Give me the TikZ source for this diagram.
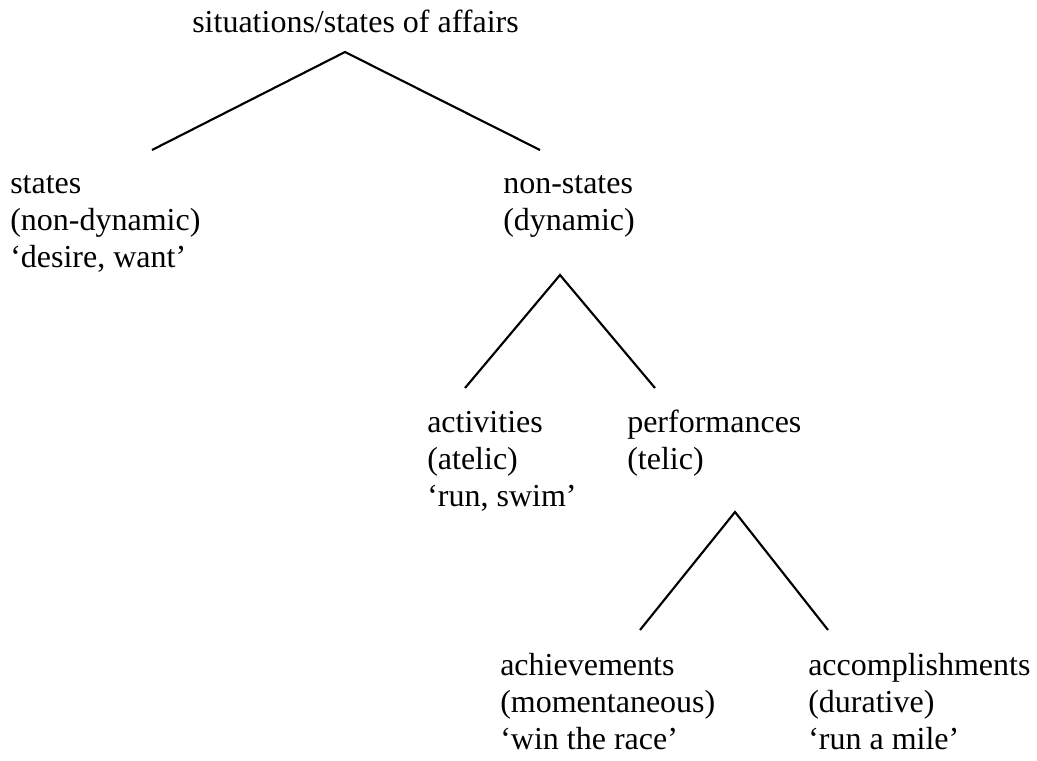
\documentclass[tikz,border=0pt]{standalone}
\usepackage{fontspec}
\setmainfont{Liberation Serif}
\begin{document}
\begin{tikzpicture}[x=0.75pt,y=-0.75pt,
  lbl/.style={anchor=base west,inner sep=0pt,font=\fontsize{24}{27.75}\selectfont},
  branch/.style={line width=1.6pt,line cap=butt,line join=miter}]
\useasboundingbox[fill=white] (0,0) rectangle (1037,760);
% top
\node[lbl] (top) at (192,32) {situations/states of affairs};
\coordinate (a0) at (345,52);
\coordinate (a1) at (152,150);
\coordinate (a2) at (540,150);
\draw[branch] (a1) -- (a0) -- (a2);
% states
\node[lbl] (st1) at (10,193) {states};
\node[lbl] (st2) at (10,230) {(non-dynamic)};
\node[lbl] (st3) at (10,267) {‘desire, want’};
% non-states
\node[lbl] (ns1) at (503,193) {non-states};
\node[lbl] (ns2) at (503,230) {(dynamic)};
\coordinate (b0) at (560,275);
\coordinate (b1) at (465,388);
\coordinate (b2) at (655,388);
\draw[branch] (b1) -- (b0) -- (b2);
% activities
\node[lbl] (ac1) at (427,432) {activities};
\node[lbl] (ac2) at (427,469) {(atelic)};
\node[lbl] (ac3) at (427,506) {‘run, swim’};
% performances
\node[lbl] (pf1) at (627,432) {performances};
\node[lbl] (pf2) at (627,469) {(telic)};
\coordinate (c0) at (735,512);
\coordinate (c1) at (640,630);
\coordinate (c2) at (828,630);
\draw[branch] (c1) -- (c0) -- (c2);
% achievements
\node[lbl] (ch1) at (500,675) {achievements};
\node[lbl] (ch2) at (500,712) {(momentaneous)};
\node[lbl] (ch3) at (500,749) {‘win the race’};
% accomplishments
\node[lbl] (cm1) at (808,675) {accomplishments};
\node[lbl] (cm2) at (808,712) {(durative)};
\node[lbl] (cm3) at (808,749) {‘run a mile’};
\end{tikzpicture}
\end{document}
